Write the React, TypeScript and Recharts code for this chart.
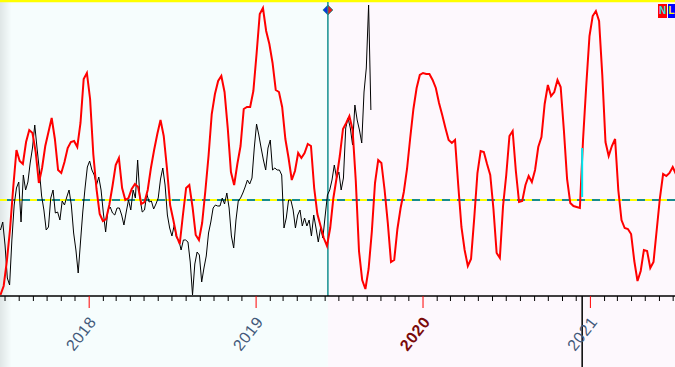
import React from "react";
import {
  ComposedChart,
  Line,
  XAxis,
  YAxis,
  ReferenceLine,
  ReferenceArea,
  ReferenceDot,
} from "recharts";

// Days counted from 2017-01-01 (day 0)
const RED_START = 171;
const RED_STEP = 7;
const BLACK_START = 171;
const BLACK_STEP = 5;

const X_MIN = 170;
const X_MAX = 1646;
const SPLIT_DAY = 887; // 2019-06-06
const MARK_DAY = 1443; // 2020-12-13
const LEVEL = 96;
const TOP_LEVEL = 295;

const redValues = [
  1, 10, 35, 67, 109, 146, 135, 132, 154, 166, 163, 144, 113, 128, 150, 164, 178, 157, 126, 123,
  134, 148, 154, 155, 149, 173, 217, 223, 197, 142, 107, 82, 75, 77, 91, 110, 131, 138, 108, 96,
  98, 107, 112, 109, 92, 94, 106, 128, 146, 162, 176, 160, 128, 91, 76, 60, 52, 81, 108, 111,
  89, 61, 56, 73, 105, 140, 182, 202, 215, 220, 204, 168, 124, 111, 132, 150, 187, 189, 189, 205,
  242, 282, 288, 265, 252, 233, 206, 204, 189, 157, 138, 116, 125, 143, 138, 143, 152, 150, 108, 82,
  70, 58, 50, 68, 98, 118, 140, 167, 173, 180, 166, 115, 45, 16, 7, 27, 64, 113, 136, 133,
  106, 73, 34, 36, 67, 88, 104, 127, 158, 187, 208, 221, 223, 222, 222, 216, 208, 193, 181, 168,
  156, 153, 156, 111, 69, 46, 30, 37, 78, 123, 145, 144, 132, 121, 87, 43, 38, 90, 121, 160,
  165, 125, 94, 95, 111, 120, 114, 126, 149, 159, 192, 211, 200, 204, 216, 209, 166, 117, 93, 90,
  89, 88, 157, 211, 260, 280, 285, 275, 221, 154, 140, 150, 157, 106, 76, 68, 67, 62, 35, 15,
  25, 46, 45, 28, 34, 66, 98, 122, 120, 123, 129, 122,
];

const blackValues = [
  66, 74, 51, 18, 11, 56, 91, 108, 114, 74, 121, 106, 114, 133, 148, 171, 148, 126, 100, 86,
  66, 69, 98, 106, 83, 84, 76, 95, 91, 99, 106, 91, 63, 46, 23, 54, 84, 108, 129, 135,
  126, 121, 111, 119, 106, 83, 64, 86, 89, 83, 81, 88, 88, 81, 71, 84, 96, 86, 106, 98,
  136, 98, 84, 86, 102, 94, 95, 87, 92, 98, 117, 128, 111, 81, 68, 60, 71, 58, 56, 46,
  56, 56, 54, 34, 1, 32, 44, 41, 14, 28, 40, 63, 74, 88, 91, 90, 90, 98, 92, 103,
  88, 60, 48, 76, 95, 98, 103, 109, 116, 112, 118, 148, 172, 161, 148, 136, 126, 148, 156, 126,
  128, 126, 126, 121, 68, 78, 96, 96, 86, 68, 81, 86, 70, 78, 70, 76, 60, 81, 68, 54,
  68, 58, 80, 101, 106, 116, 131, 118, 124, 106, 118, 168, 178, 168, 151, 191, 176, 166, 153, 204,
  228, 291, 186,
];

const yearLabels = [2018, 2019, 2020, 2021];
const highlightYear = 2020;

const DAY_MS = 86400000;
const BASE = Date.UTC(2017, 0, 1);
const dayOf = (y: number, m: number) => Math.round((Date.UTC(y, m, 1) - BASE) / DAY_MS);

const monthTicks: number[] = [];
for (let y = 2017; y <= 2021; y++) {
  for (let m = 0; m < 12; m++) {
    const d = dayOf(y, m);
    if (d >= X_MIN && d <= X_MAX) monthTicks.push(d);
  }
}
const yearDays = yearLabels.map((y) => dayOf(y, 0));

const redData = redValues.map((v, i) => ({ day: RED_START + i * RED_STEP, v }));
const blackData = blackValues.map((v, i) => ({ day: BLACK_START + i * BLACK_STEP, v }));

const AxisTick = (props: any) => {
  const { x, y, payload } = props;
  const idx = yearDays.indexOf(payload.value);
  if (idx < 0) {
    return <line x1={x} x2={x} y1={y} y2={y + 5} stroke="#000" strokeWidth={1} />;
  }
  const yr = yearLabels[idx];
  const hi = yr === highlightYear;
  return (
    <g>
      <line x1={x} x2={x} y1={y} y2={y + 12} stroke="#ff0000" strokeWidth={1} />
      <text
        transform={`translate(${x + 8},${y + 26}) rotate(-52)`}
        textAnchor="end"
        fontFamily="Liberation Sans, Arial, sans-serif"
        fontSize={16}
        fontWeight={hi ? "bold" : "normal"}
        fill={hi ? "#7a0a0a" : "#43597a"}
        letterSpacing={0.6}
      >
        {yr}
      </text>
    </g>
  );
};

const BgLeft = (props: any) => {
  const { x, width } = props;
  return (
    <g>
      <defs>
        <linearGradient id="edgeShade" x1="0" y1="0" x2="1" y2="0">
          <stop offset="0" stopColor="#dfe6e6" />
          <stop offset="0.035" stopColor="#f6fdfd" />
          <stop offset="1" stopColor="#f6fdfd" />
        </linearGradient>
      </defs>
      <rect x={x} y={0} width={width} height={367} fill="url(#edgeShade)" />
    </g>
  );
};

const BgRight = (props: any) => {
  const { x, width } = props;
  return <rect x={x} y={0} width={width} height={367} fill="#fdf8fd" />;
};

const FullLine = (props: any) => {
  const { x1, y1 } = props;
  return <line x1={x1} x2={x1} y1={y1} y2={367} stroke="#000" strokeWidth={1.5} />;
};

const Diamond = (props: any) => {
  const { cx, cy } = props;
  return (
    <g>
      <polygon points={`${cx},${cy - 5} ${cx - 5},${cy} ${cx},${cy + 5}`} fill="#1030e0" stroke="#139090" strokeWidth={0.8} />
      <polygon points={`${cx},${cy - 5} ${cx + 5},${cy} ${cx},${cy + 5}`} fill="#e02020" stroke="#139090" strokeWidth={0.8} />
    </g>
  );
};

export default function App() {
  return (
    <div style={{ position: "absolute", left: 0, top: 0, width: 675, height: 367 }}>
      <ComposedChart width={675} height={367} margin={{ top: 2, right: 0, left: 0, bottom: 0 }}>
        <XAxis
          type="number"
          dataKey="day"
          domain={[X_MIN, X_MAX]}
          ticks={monthTicks}
          interval={0}
          tick={<AxisTick />}
          tickLine={false}
          tickSize={0}
          tickMargin={0}
          axisLine={{ stroke: "#000", strokeWidth: 1.5 }}
          height={71}
          allowDataOverflow
        />
        <YAxis type="number" domain={[0, 294]} hide allowDataOverflow />
        <ReferenceArea x1={X_MIN} x2={SPLIT_DAY} ifOverflow="visible" shape={<BgLeft />} />
        <ReferenceArea x1={SPLIT_DAY} x2={X_MAX} ifOverflow="visible" shape={<BgRight />} />
        <ReferenceLine y={LEVEL} stroke="#188c8c" strokeWidth={2} />
        <ReferenceLine y={LEVEL} stroke="#ffff00" strokeWidth={2} strokeDasharray="7 8" />
        <ReferenceLine y={TOP_LEVEL} stroke="#ffff00" strokeWidth={2.5} ifOverflow="visible" />
        <ReferenceLine x={SPLIT_DAY} stroke="#138f8f" strokeWidth={1.5} />
        <ReferenceLine x={MARK_DAY} ifOverflow="visible" shape={<FullLine />} />
        <Line
          data={blackData}
          dataKey="v"
          type="linear"
          stroke="#000"
          strokeWidth={1}
          dot={false}
          isAnimationActive={false}
        />
        <Line
          data={redData}
          dataKey="v"
          type="linear"
          stroke="#ff0000"
          strokeWidth={2}
          dot={false}
          isAnimationActive={false}
        />
        <ReferenceLine
          segment={[
            { x: MARK_DAY, y: 99 },
            { x: MARK_DAY, y: 148 },
          ]}
          stroke="#00e8f0"
          strokeWidth={2}
        />
        <ReferenceDot x={SPLIT_DAY} y={286} r={5} shape={<Diamond />} ifOverflow="visible" />
      </ComposedChart>
      <div
        style={{
          position: "absolute",
          top: 4,
          right: 0,
          display: "flex",
          fontFamily: "Liberation Sans, Arial, sans-serif",
          fontWeight: "bold",
          fontSize: 10,
          lineHeight: "14px",
        }}
      >
        <span style={{ background: "#ff0000", color: "#30e0e0", width: 9, textAlign: "center", marginRight: 1 }}>N</span>
        <span style={{ background: "#0000ff", color: "#ffff00", width: 7, textAlign: "center" }}>L</span>
      </div>
    </div>
  );
}
